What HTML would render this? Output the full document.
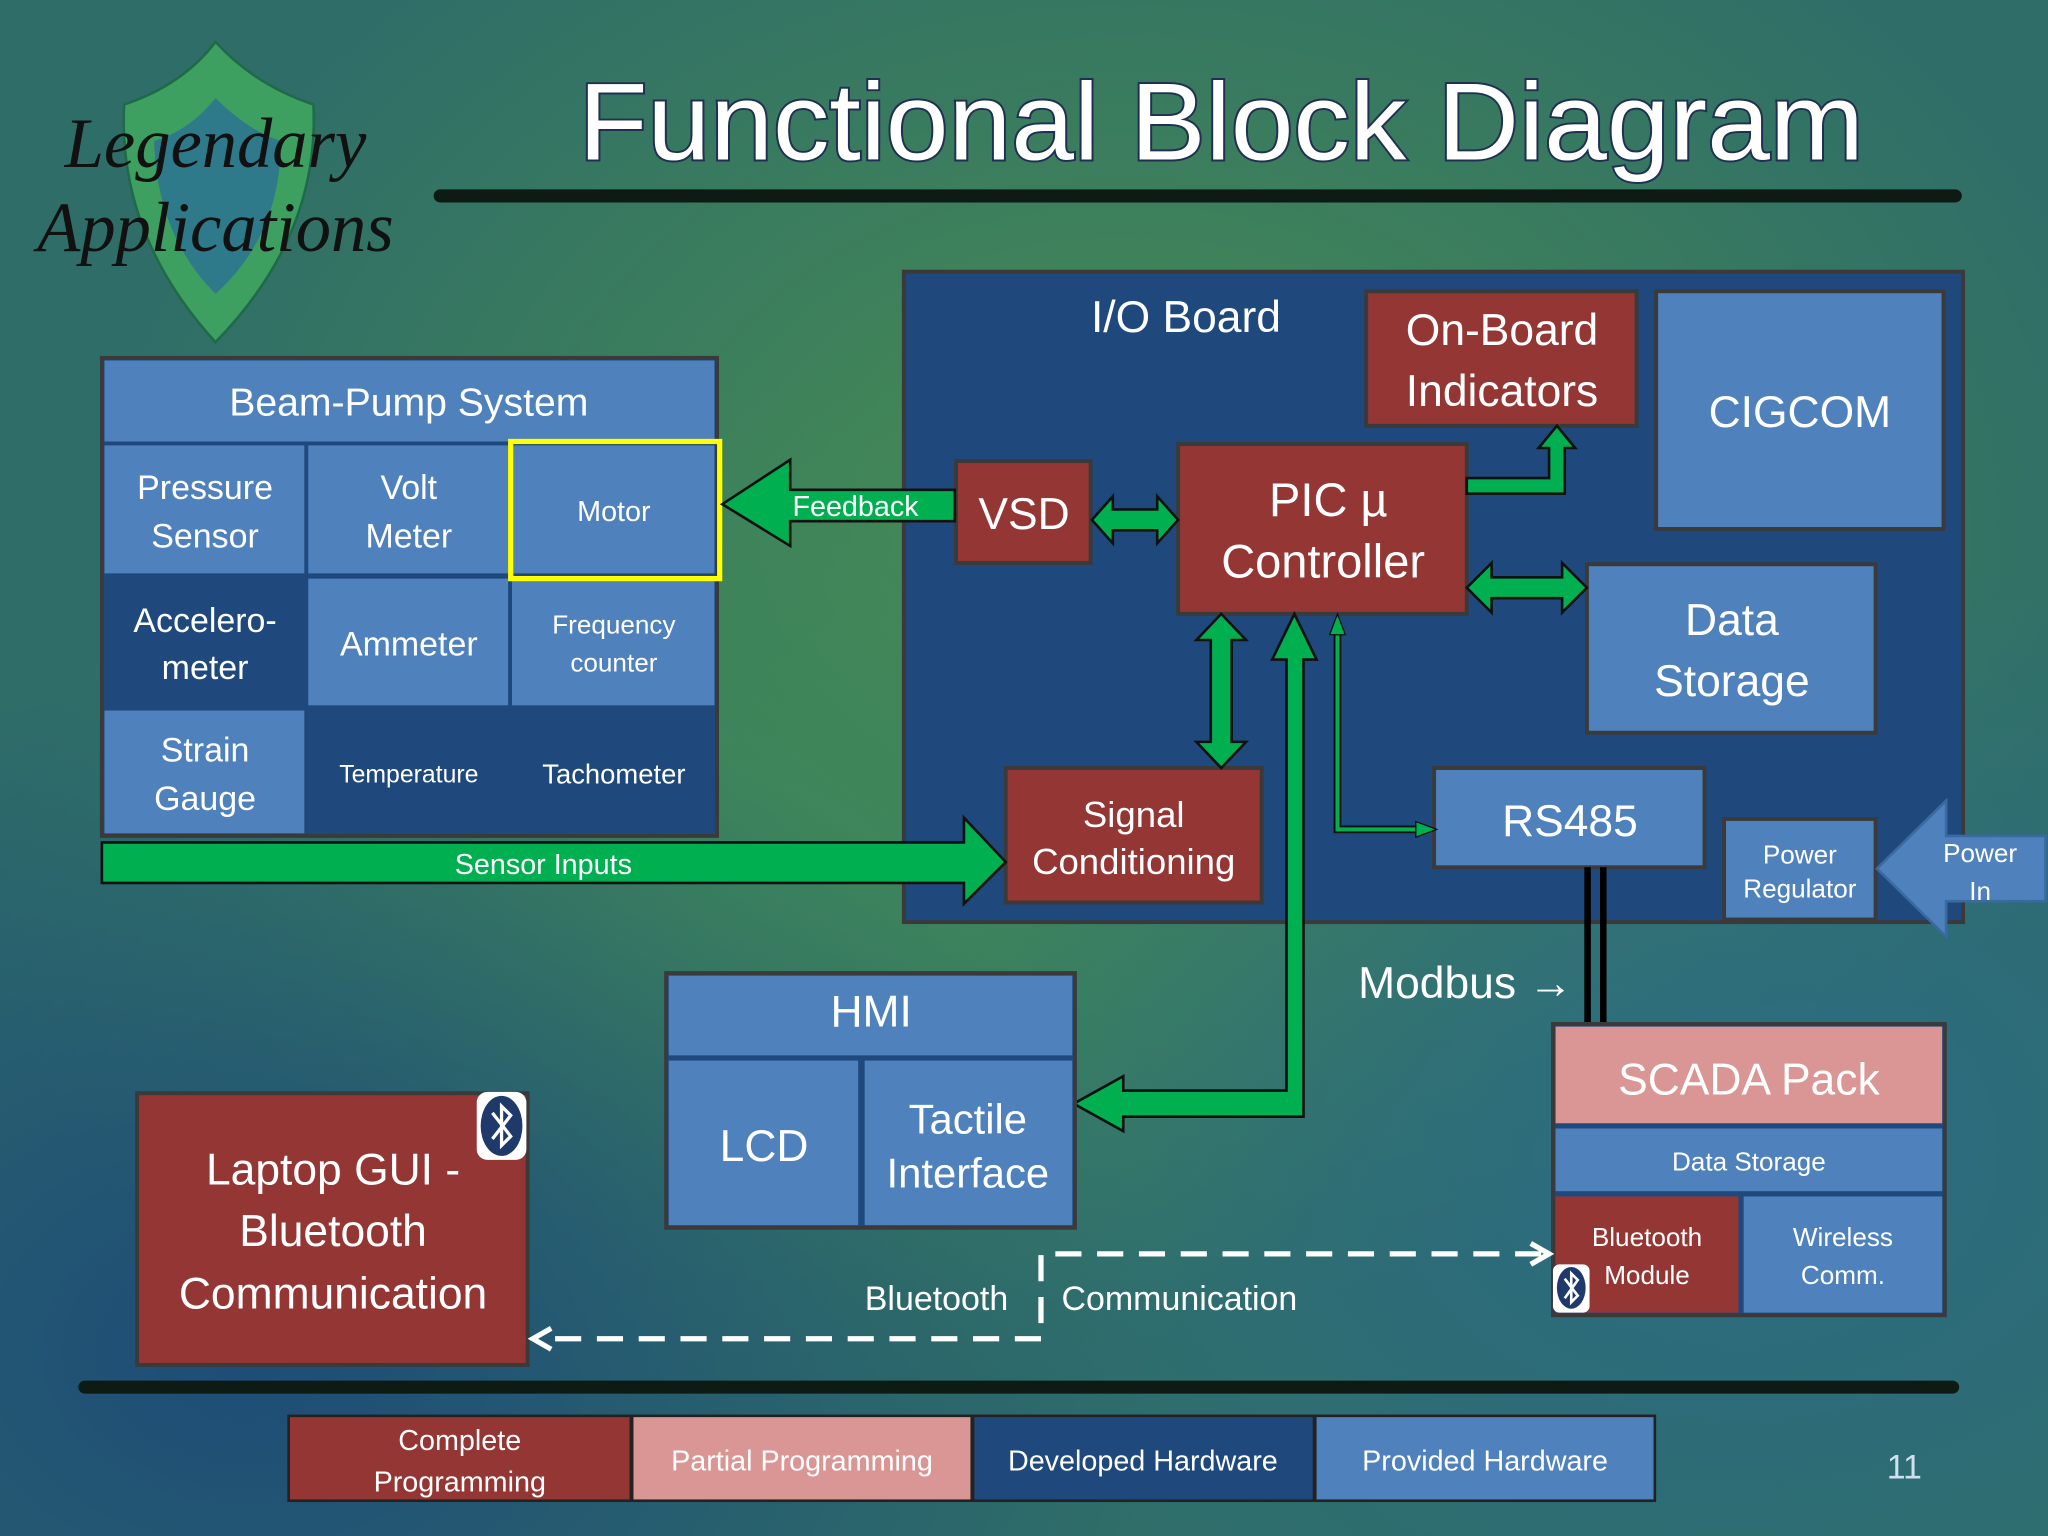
<!DOCTYPE html>
<html><head><meta charset="utf-8"><style>
html,body{margin:0;padding:0;width:2048px;height:1536px;overflow:hidden}
svg{display:block}
text{font-family:"Liberation Sans","DejaVu Sans",sans-serif;fill:#fff;text-anchor:middle}
</style></head><body>
<svg width="2048" height="1536" viewBox="0 0 1568 1176" xmlns="http://www.w3.org/2000/svg">
<defs>
<radialGradient id="g1" cx="0.55" cy="0.35" r="0.5"><stop offset="0" stop-color="#4a9050" stop-opacity="0.9"/><stop offset="1" stop-color="#4a9050" stop-opacity="0"/></radialGradient>
<radialGradient id="g2" cx="0.12" cy="0.88" r="0.45"><stop offset="0" stop-color="#1d4a78" stop-opacity="0.95"/><stop offset="1" stop-color="#1d4a78" stop-opacity="0"/></radialGradient>
<radialGradient id="g3" cx="0.85" cy="0.75" r="0.4"><stop offset="0" stop-color="#2a6a8a" stop-opacity="0.8"/><stop offset="1" stop-color="#2a6a8a" stop-opacity="0"/></radialGradient>
<radialGradient id="g4" cx="0.35" cy="0.6" r="0.35"><stop offset="0" stop-color="#3f8a5a" stop-opacity="0.8"/><stop offset="1" stop-color="#3f8a5a" stop-opacity="0"/></radialGradient>
</defs>
<rect width="1568" height="1176" fill="#2f6e68"/>
<rect width="1568" height="1176" fill="url(#g1)"/>
<rect width="1568" height="1176" fill="url(#g4)"/>
<rect width="1568" height="1176" fill="url(#g2)"/>
<rect width="1568" height="1176" fill="url(#g3)"/>

<!-- logo -->
<path d="M165,32 Q195,65 240,80 Q245,180 165,262 Q90,180 95,80 Q140,65 165,32Z" fill="#3da060" stroke="#1f6a4a" stroke-width="2"/>
<path d="M165,75 Q190,100 215,108 Q215,180 165,225 Q120,180 118,108 Q145,100 165,75Z" fill="#2e7a8a"/>
<text x="165" y="128" style="font-family:'Liberation Serif',serif;font-style:italic;font-size:54px;fill:#111">Legendary</text>
<text x="165" y="192" style="font-family:'Liberation Serif',serif;font-style:italic;font-size:54px;fill:#111">Applications</text>

<!-- title -->
<text x="935" y="122" textLength="984" lengthAdjust="spacingAndGlyphs" style="font-size:84px;fill:#fff;stroke:#1f3050;stroke-width:3;paint-order:stroke">Functional Block Diagram</text>
<rect x="332" y="145" width="1170" height="10" rx="5" fill="#0e1a14"/>
<rect x="60" y="1057" width="1440" height="10" rx="5" fill="#0e1a14"/>

<!-- I/O board -->
<rect x="692" y="208" width="811" height="498" fill="#1f497d" stroke="#3a3a3a" stroke-width="3"/>
<text x="908" y="254" style="font-size:34px">I/O Board</text>
<g stroke="#3a3a3a" stroke-width="3">
<rect x="1046" y="223" width="207" height="103" fill="#943634"/>
<rect x="1268" y="223" width="220" height="182" fill="#4f81bd"/>
<rect x="732" y="353" width="103" height="78" fill="#943634"/>
<rect x="902" y="340" width="221" height="130" fill="#943634"/>
<rect x="1215" y="432" width="221" height="129" fill="#4f81bd"/>
<rect x="770" y="588" width="196" height="103" fill="#943634"/>
<rect x="1098" y="588" width="207" height="76" fill="#4f81bd"/>
<rect x="1320" y="627" width="116" height="77" fill="#4f81bd"/>
</g>
<text x="1150" y="264" style="font-size:34px">On-Board</text>
<text x="1150" y="311" style="font-size:34px">Indicators</text>
<text x="1378" y="327" style="font-size:34px">CIGCOM</text>
<text x="784" y="405" style="font-size:34px">VSD</text>
<text x="1017" y="395" style="font-size:36px">PIC µ</text>
<text x="1013" y="442" style="font-size:36px">Controller</text>
<text x="1326" y="486" style="font-size:34px">Data</text>
<text x="1326" y="533" style="font-size:34px">Storage</text>
<text x="868" y="633" style="font-size:28px">Signal</text>
<text x="868" y="669" style="font-size:28px">Conditioning</text>
<text x="1202" y="640" style="font-size:34px">RS485</text>
<text x="1378" y="661" style="font-size:20px">Power</text>
<text x="1378" y="687" style="font-size:20px">Regulator</text>
<!-- power in -->
<path d="M1566,640 L1490,640 L1490,613 L1437,665 L1490,717 L1490,690 L1566,690Z" fill="#4f81bd" stroke="#3a6aa0" stroke-width="2"/>
<text x="1516" y="660" style="font-size:20px">Power</text>
<text x="1516" y="689" style="font-size:20px">In</text>

<!-- beam pump -->
<rect x="78" y="274" width="471" height="366" fill="#1f497d" stroke="#3a3a3a" stroke-width="3"/>
<g fill="#4f81bd">
<rect x="80" y="276" width="467" height="62"/>
<rect x="80" y="341" width="153" height="98"/>
<rect x="236" y="341" width="153" height="98"/>
<rect x="392" y="341" width="155" height="98"/>
<rect x="236" y="443" width="153" height="97"/>
<rect x="392" y="443" width="155" height="97"/>
<rect x="80" y="544" width="153" height="94"/>
</g>
<rect x="391" y="338" width="160" height="105" fill="none" stroke="#ffff00" stroke-width="4"/>
<text x="313" y="318" style="font-size:30px">Beam-Pump System</text>
<text x="157" y="382" style="font-size:26px">Pressure</text>
<text x="157" y="419" style="font-size:26px">Sensor</text>
<text x="313" y="382" style="font-size:26px">Volt</text>
<text x="313" y="419" style="font-size:26px">Meter</text>
<text x="470" y="399" style="font-size:22px">Motor</text>
<text x="157" y="484" style="font-size:26px">Accelero-</text>
<text x="157" y="520" style="font-size:26px">meter</text>
<text x="313" y="502" style="font-size:26px">Ammeter</text>
<text x="470" y="485" style="font-size:20px">Frequency</text>
<text x="470" y="514" style="font-size:20px">counter</text>
<text x="157" y="583" style="font-size:26px">Strain</text>
<text x="157" y="620" style="font-size:26px">Gauge</text>
<text x="313" y="599" style="font-size:19px">Temperature</text>
<text x="470" y="600" style="font-size:21px">Tachometer</text>

<!-- arrows -->
<g fill="#00b050" stroke="#111" stroke-width="2">
<path d="M731,375 L605,375 L605,352 L553,386 L605,418 L605,399 L731,399Z"/>
<path d="M78,645 L738,645 L738,626 L770,660 L738,692 L738,676 L78,676Z"/>
<path d="M836,398 L852,380 L852,390 L886,390 L886,380 L902,398 L886,416 L886,406 L852,406 L852,416Z"/>
<path d="M1123,450 L1142,431 L1142,442 L1196,442 L1196,431 L1215,450 L1196,469 L1196,458 L1142,458 L1142,469Z"/>
<path d="M935,470 L954,490 L943,490 L943,568 L954,568 L935,588 L916,568 L927,568 L927,490 L916,490Z"/>
<path d="M1123,366 L1186,366 L1186,343 L1178,343 L1192,326 L1206,343 L1198,343 L1198,378 L1123,378Z"/>
<path d="M991,470 L1008,505 L998,505 L998,855 L860,855 L860,866 L822,845 L860,824 L860,835 L985,835 L985,505 L974,505Z"/>
</g>
<polyline points="1024,480 1024,635 1092,635" fill="none" stroke="#111" stroke-width="6"/>
<polyline points="1024,480 1024,635 1092,635" fill="none" stroke="#00b050" stroke-width="3"/>
<path d="M1024,470 L1030,486 L1018,486Z" fill="#00b050" stroke="#111" stroke-width="1"/>
<path d="M1100,635 L1084,629 L1084,641Z" fill="#00b050" stroke="#111" stroke-width="1"/>
<text x="655" y="395" style="font-size:22px">Feedback</text>
<text x="416" y="669" style="font-size:22px">Sensor Inputs</text>

<!-- modbus -->
<rect x="1213" y="664" width="5" height="120" fill="#000"/>
<rect x="1225" y="664" width="5" height="120" fill="#000"/>
<text x="1122" y="764" style="font-size:34px">Modbus →</text>

<!-- HMI -->
<rect x="510" y="745" width="313" height="195" fill="#1f497d" stroke="#3a3a3a" stroke-width="3"/>
<g fill="#4f81bd">
<rect x="512" y="747" width="309" height="61"/>
<rect x="512" y="812" width="145" height="126"/>
<rect x="662" y="812" width="159" height="126"/>
</g>
<text x="667" y="786" style="font-size:34px">HMI</text>
<text x="585" y="889" style="font-size:34px">LCD</text>
<text x="741" y="868" style="font-size:32px">Tactile</text>
<text x="741" y="909" style="font-size:32px">Interface</text>

<!-- laptop -->
<rect x="105" y="837" width="299" height="208" fill="#943634" stroke="#3a3a3a" stroke-width="3"/>
<text x="255" y="907" style="font-size:34px">Laptop GUI -</text>
<text x="255" y="954" style="font-size:34px">Bluetooth</text>
<text x="255" y="1002" style="font-size:34px">Communication</text>
<rect x="365" y="836" width="38" height="52" rx="8" fill="#fff"/>
<ellipse cx="384" cy="862" rx="16" ry="23" fill="#1f3a6a"/>
<path d="M377,852 L391,870 L384,877 L384,847 L391,854 L377,872" fill="none" stroke="#fff" stroke-width="2.5"/>

<!-- SCADA -->
<rect x="1189" y="784" width="300" height="223" fill="#1f497d" stroke="#3a3a3a" stroke-width="3"/>
<rect x="1191" y="786" width="296" height="74" fill="#d99694"/>
<rect x="1191" y="864" width="296" height="48" fill="#4f81bd"/>
<rect x="1191" y="916" width="140" height="89" fill="#943634"/>
<rect x="1335" y="916" width="152" height="89" fill="#4f81bd"/>
<text x="1339" y="838" style="font-size:34px">SCADA Pack</text>
<text x="1339" y="896" style="font-size:20px">Data Storage</text>
<text x="1261" y="954" style="font-size:20px">Bluetooth</text>
<text x="1261" y="983" style="font-size:20px">Module</text>
<text x="1411" y="954" style="font-size:20px">Wireless</text>
<text x="1411" y="983" style="font-size:20px">Comm.</text>
<rect x="1189" y="968" width="28" height="37" rx="5" fill="#fff"/>
<ellipse cx="1203" cy="986" rx="11" ry="16" fill="#1f3a6a"/>
<path d="M1198,979 L1208,992 L1203,997 L1203,975 L1208,980 L1198,994" fill="none" stroke="#fff" stroke-width="2"/>

<!-- bluetooth dashed -->
<polyline points="1180,960 797,960 797,1025 415,1025" fill="none" stroke="#fff" stroke-width="4" stroke-dasharray="20 12"/>
<polyline points="1172,952 1186,960 1172,968" fill="none" stroke="#fff" stroke-width="4"/>
<polyline points="422,1017 408,1025 422,1033" fill="none" stroke="#fff" stroke-width="4"/>
<text x="717" y="1003" style="font-size:26px">Bluetooth</text>
<text x="903" y="1003" style="font-size:26px">Communication</text>

<!-- legend -->
<rect x="220" y="1083" width="1048" height="67" fill="#222"/>
<rect x="222" y="1085" width="260" height="63" fill="#943634"/>
<rect x="485" y="1085" width="258" height="63" fill="#d99694"/>
<rect x="746" y="1085" width="259" height="63" fill="#1f497d"/>
<rect x="1008" y="1085" width="258" height="63" fill="#4f81bd"/>
<text x="352" y="1110" style="font-size:22px">Complete</text>
<text x="352" y="1142" style="font-size:22px">Programming</text>
<text x="614" y="1126" style="font-size:22px">Partial Programming</text>
<text x="875" y="1126" style="font-size:22px">Developed Hardware</text>
<text x="1137" y="1126" style="font-size:22px">Provided Hardware</text>
<text x="1458" y="1132" style="font-size:26px;fill:#cfe0ee">11</text>
</svg>
</body></html>
